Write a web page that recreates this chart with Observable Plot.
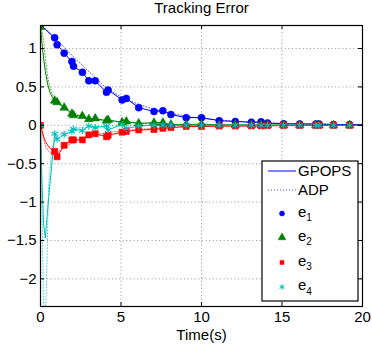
<!DOCTYPE html>
<html><head><meta charset="utf-8">
<script src="https://cdn.jsdelivr.net/npm/d3@7"></script>
<script src="https://cdn.jsdelivr.net/npm/@observablehq/plot@0.6"></script>
<style>
body{margin:0;background:#fff}
svg{font-family:"Liberation Sans",Arial,Helvetica,sans-serif}
</style>
</head><body><div id="chart"></div>
<script>
// ---- data ----
const xTicks = [0, 5, 10, 15, 20];
const yTicks = [-2, -1.5, -1, -0.5, 0, 0.5, 1];
const seriesNames = ["e1", "e2", "e3", "e4"];
const seriesColors = ["#0000ff", "#008000", "#ff0000", "#00bfbf"];
const seriesSymbols = ["circle", "triangle", "square", "asterisk"];

// sample (marker) times and values
const tMark = [0, 0.88, 1.03, 1.47, 1.95, 2.05, 2.6, 3.0, 3.4, 4.1, 4.2, 5.07, 5.33, 6.1, 7.05, 7.6, 8.1, 9.05, 10.0, 11.1, 12.1, 13.1, 13.7, 14.1, 15.1, 16.1, 17.1, 17.3, 18.2, 19.2];
const e1Mark = [1.3, 1.14, 1.05, 0.94, 0.83, 0.77, 0.69, 0.58, 0.58, 0.43, 0.46, 0.33, 0.35, 0.23, 0.18, 0.19, 0.14, 0.10, 0.10, 0.06, 0.05, 0.04, 0.045, 0.03, 0.02, 0.018, 0.018, 0.018, 0.01, 0.01];
const e2Mark = [1.28, 0.32, 0.30, 0.23, 0.15, 0.13, 0.12, 0.08, 0.09, 0.06, 0.07, 0.04, 0.05, 0.025, 0.035, 0.035, 0.01, 0.01, 0.015, 0.005, 0.005, 0.004, 0.004, 0.003, 0.002, 0.002, 0.002, 0.002, 0.001, 0.001];
const e3Mark = [0, -0.34, -0.41, -0.26, -0.19, -0.19, -0.19, -0.125, -0.11, -0.15, -0.13, -0.09, -0.08, -0.06, -0.055, -0.04, -0.03, -0.015, -0.015, -0.01, -0.01, -0.008, -0.008, -0.005, -0.004, -0.003, -0.003, -0.003, -0.002, -0.002];
const e4Mark = [0, -0.11, -0.18, -0.12, -0.08, -0.05, -0.07, -0.01, -0.03, -0.01, -0.06, 0.01, -0.04, -0.01, 0.0, 0.0, 0.0, 0.0, 0.0, 0.0, 0.0, 0.0, 0.0, 0.0, 0.0, 0.0, 0.0, 0.0, 0.0, 0.0];

// GPOPS solid line: early transient points, then through the samples, to t = 20
const tEarly = [0.1, 0.2, 0.3, 0.45, 0.6, 0.75];
const e1Early = [1.29, 1.27, 1.25, 1.22, 1.19, 1.16];
const e2Early = [1.05, 0.86, 0.70, 0.53, 0.42, 0.36];
const e3Early = [-0.07, -0.15, -0.21, -0.26, -0.30, -0.32];
const e4Early = [-0.8, -1.3, -1.47, -1.08, -0.74, -0.40];
const tEnd = 20;
const eEnd = [0.008, 0, 0, 0];

// ADP dotted line
const tAdp = [0, 0.1, 0.2, 0.3, 0.4, 0.5, 0.7, 1, 1.5, 2, 2.5, 3, 4, 5, 6, 7, 8, 9, 10, 12, 14, 16, 18, 20];
const e1Adp = [1.3, 1.29, 1.28, 1.26, 1.24, 1.22, 1.18, 1.12, 1.01, 0.9, 0.8, 0.7, 0.5, 0.37, 0.28, 0.21, 0.16, 0.12, 0.09, 0.055, 0.032, 0.02, 0.012, 0.008];
const e2Adp = [1.28, 1.22, 1.08, 0.88, 0.7, 0.57, 0.42, 0.31, 0.22, 0.16, 0.12, 0.09, 0.06, 0.04, 0.03, 0.02, 0.015, 0.01, 0.008, 0.004, 0.002, 0.001, 0, 0];
const e3Adp = [0, -0.1, -0.19, -0.26, -0.31, -0.34, -0.37, -0.36, -0.29, -0.22, -0.17, -0.14, -0.1, -0.075, -0.055, -0.04, -0.03, -0.022, -0.016, -0.009, -0.005, -0.003, -0.002, -0.001];
const e4Adp = [0, -1.2, -2.5, -2.6, -1.8, -0.8, -0.3, -0.15, -0.08, -0.05, -0.03, -0.02, -0.01, 0, 0, 0, 0, 0, 0, 0, 0, 0, 0, 0];

// ---- build tables ----
const marks = [e1Mark, e2Mark, e3Mark, e4Mark];
const earlies = [e1Early, e2Early, e3Early, e4Early];
const adps = [e1Adp, e2Adp, e3Adp, e4Adp];
const gpopsRows = [], adpRows = [], markRows = [];
seriesNames.forEach((s, i) => {
  gpopsRows.push({t: tMark[0], v: marks[i][0], s});
  tEarly.forEach((t, j) => gpopsRows.push({t, v: earlies[i][j], s}));
  tMark.slice(1).forEach((t, j) => gpopsRows.push({t, v: marks[i][j + 1], s}));
  gpopsRows.push({t: tEnd, v: eEnd[i], s});
  tAdp.forEach((t, j) => adpRows.push({t, v: adps[i][j], s}));
  tMark.forEach((t, j) => markRows.push({t, v: marks[i][j], s, i}));
});

const W = 372, H = 348, mL = 40, mR = 10, mT = 25, mB = 42;
const innerW = W - mL - mR, innerH = H - mT - mB;
const color = {domain: seriesNames, range: seriesColors};
const grid = {stroke: "#777", strokeDasharray: "1,2.6", strokeWidth: 0.8};
const fmt = d => (d < 0 ? "\u2212" : "") + String(Math.abs(d));

const chart = Plot.plot({
  width: W, height: H,
  marginLeft: mL, marginRight: mR, marginTop: mT, marginBottom: mB,
  style: {fontSize: "15px", fontFamily: "'Liberation Sans', Arial, sans-serif", background: "#fff"},
  x: {domain: [0, 20]},
  y: {domain: [-2.36, 1.3]},
  color,
  marks: [
    Plot.ruleX(xTicks.filter(d => d > 0 && d < 20), {...grid}),
    Plot.ruleY(yTicks, {...grid}),
    Plot.line(gpopsRows, {x: "t", y: "v", z: "s", stroke: d => d.s, strokeWidth: 1, clip: true}),
    Plot.line(adpRows, {x: "t", y: "v", z: "s", stroke: d => d.s, strokeWidth: 1, strokeDasharray: "1,2", strokeOpacity: 0.7, clip: true}),
    ...seriesNames.map((s, i) => Plot.dot(markRows.filter(d => d.s === s), {
      x: "t", y: "v",
      symbol: () => seriesSymbols[i],
      r: i === 0 ? 3.5 : i === 1 ? 3.2 : 3.4,
      fill: i === 3 ? "none" : seriesColors[i],
      stroke: seriesColors[i],
      strokeWidth: i === 3 ? 1.1 : 0.6,
      clip: true
    })),
    // inward ticks on all four sides
    Plot.tickX(xTicks, {x: d => d, insetTop: innerH - 4, stroke: "#000"}),
    Plot.tickX(xTicks, {x: d => d, insetBottom: innerH - 4, stroke: "#000"}),
    Plot.tickY(yTicks, {y: d => d, insetRight: innerW - 4, stroke: "#000"}),
    Plot.tickY(yTicks, {y: d => d, insetLeft: innerW - 4, stroke: "#000"}),
    Plot.frame({stroke: "#000", strokeWidth: 1.2}),
    Plot.axisX({ticks: xTicks, tickSize: 0, tickPadding: 5, label: null, fill: "#000", tickFormat: fmt}),
    Plot.axisY({ticks: yTicks, tickSize: 0, tickPadding: 4, label: null, fill: "#000", tickFormat: fmt}),
    Plot.text(["Tracking Error"], {frameAnchor: "top", lineAnchor: "middle", dy: -17, fontSize: 15, fill: "#000"}),
    Plot.text(["Time(s)"], {frameAnchor: "bottom", lineAnchor: "middle", dy: 28.5, fontSize: 15, fill: "#000"})
  ]
});

// ---- legend (drawn inside the plot area, MATLAB style) ----
const svg = d3.select(chart);
const lg = svg.append("g").attr("font-size", 15).attr("fill", "#000").attr("text-anchor", "start");
const bx = 262, by = 161, bw = 96, bh = 140;
lg.append("rect").attr("x", bx).attr("y", by).attr("width", bw).attr("height", bh)
  .attr("fill", "#fff").attr("stroke", "#000").attr("stroke-width", 1.2);
const lineX1 = bx + 6, lineX2 = bx + 34, textX = bx + 36;
const rowsY = [171, 190, 213.5, 237.5, 262.5, 287];
lg.append("line").attr("x1", lineX1).attr("x2", lineX2).attr("y1", rowsY[0]).attr("y2", rowsY[0])
  .attr("stroke", seriesColors[0]).attr("stroke-width", 1);
lg.append("text").attr("x", textX).attr("y", rowsY[0]).attr("dy", "0.35em").text("GPOPS");
lg.append("line").attr("x1", lineX1).attr("x2", lineX2).attr("y1", rowsY[1]).attr("y2", rowsY[1])
  .attr("stroke", seriesColors[0]).attr("stroke-width", 1).attr("stroke-dasharray", "1,2").attr("stroke-opacity", 0.7);
lg.append("text").attr("x", textX).attr("y", rowsY[1]).attr("dy", "0.35em").text("ADP");
const symMap = {circle: d3.symbolCircle, triangle: d3.symbolTriangle, square: d3.symbolSquare, asterisk: d3.symbolAsterisk};
const legSizes = [20, 26, 16, 22];
seriesNames.forEach((s, i) => {
  const y = rowsY[i + 2];
  lg.append("path").attr("transform", `translate(${(lineX1 + lineX2) / 2},${y})`)
    .attr("d", d3.symbol(symMap[seriesSymbols[i]], legSizes[i])())
    .attr("fill", i === 3 ? "none" : seriesColors[i])
    .attr("stroke", seriesColors[i]).attr("stroke-width", i === 3 ? 1 : 0.5);
  const t = lg.append("text").attr("x", textX).attr("y", y).attr("dy", "0.2em");
  t.append("tspan").text("e");
  t.append("tspan").attr("font-size", 10).attr("dy", "0.45em").text(s.slice(1));
});

document.getElementById("chart").appendChild(chart);
</script>
</body></html>
